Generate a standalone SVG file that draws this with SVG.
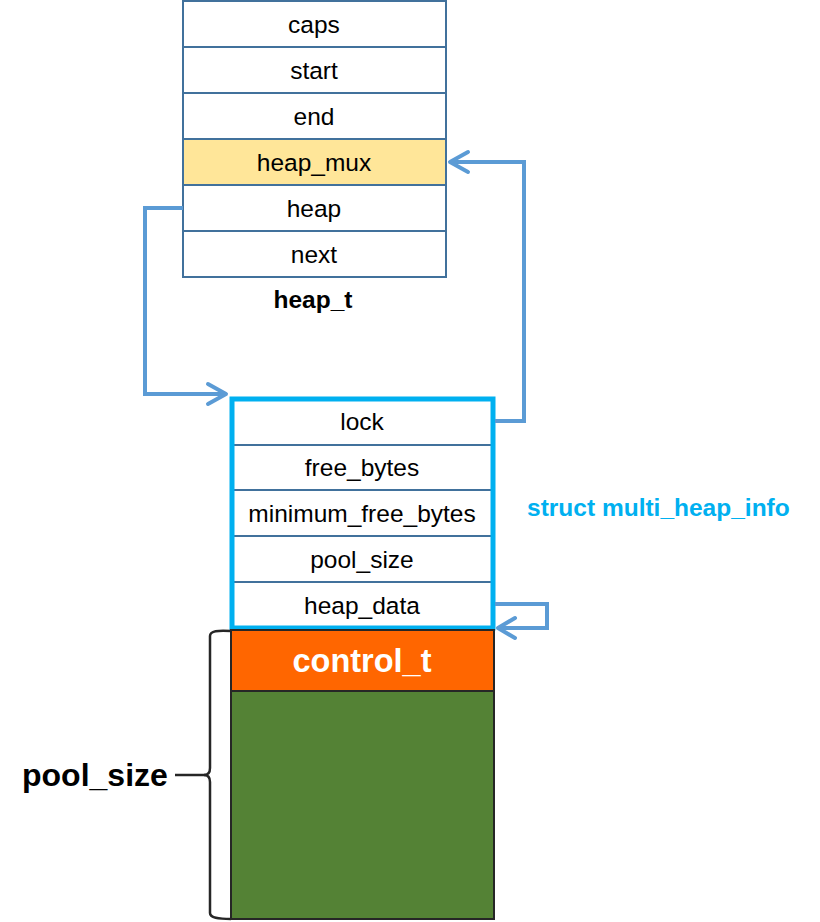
<svg xmlns="http://www.w3.org/2000/svg" width="820" height="922" viewBox="0 0 820 922">
<defs>
<style>
.cell{fill:#FFFFFF;stroke:#41719C;stroke-width:2}
.t{font-family:"Liberation Sans",Arial,sans-serif;font-size:24.5px;fill:#000;text-anchor:middle}
.conn{fill:none;stroke:#5B9BD5;stroke-width:4;stroke-linejoin:miter}
.ah{fill:none;stroke:#5B9BD5;stroke-width:4;stroke-linecap:round;stroke-linejoin:round}
</style>
</defs>
<rect width="820" height="922" fill="#FFFFFF"/>
<g id="heap_t">
<rect class="cell" x="183" y="1" width="263" height="46"/>
<rect class="cell" x="183" y="47" width="263" height="46"/>
<rect class="cell" x="183" y="93" width="263" height="46"/>
<rect class="cell" x="183" y="139" width="263" height="46" style="fill:#FFE699"/>
<rect class="cell" x="183" y="185" width="263" height="46"/>
<rect class="cell" x="183" y="231" width="263" height="46"/>
<text class="t" x="314" y="32.5">caps</text>
<text class="t" x="314" y="78.5">start</text>
<text class="t" x="314" y="124.5">end</text>
<text class="t" x="314" y="170.5">heap_mux</text>
<text class="t" x="314" y="216.5">heap</text>
<text class="t" x="314" y="262.5">next</text>
<text class="t" x="313" y="308" style="font-weight:bold">heap_t</text>
</g>
<g id="multi_heap_info">
<rect class="cell" x="232" y="399" width="261" height="46"/>
<rect class="cell" x="232" y="445" width="261" height="45"/>
<rect class="cell" x="232" y="490" width="261" height="46"/>
<rect class="cell" x="232" y="536" width="261" height="46"/>
<rect class="cell" x="232" y="582" width="261" height="46"/>
<rect x="232" y="399" width="261" height="229" fill="none" stroke="#00B0F0" stroke-width="5"/>
<text class="t" x="362" y="430">lock</text>
<text class="t" x="362" y="476">free_bytes</text>
<text class="t" x="362" y="522">minimum_free_bytes</text>
<text class="t" x="362" y="568">pool_size</text>
<text class="t" x="362" y="614">heap_data</text>
<text x="527" y="516" style="font-family:'Liberation Sans',Arial,sans-serif;font-size:24.5px;font-weight:bold;fill:#00B0F0">struct multi_heap_info</text>
</g>
<g id="pool">
<rect x="231" y="630" width="263" height="61" fill="#FF6600" stroke="#262626" stroke-width="2"/>
<rect x="231" y="691" width="263" height="228" fill="#548235" stroke="#262626" stroke-width="2"/>
<text x="362" y="672" style="font-family:'Liberation Sans',Arial,sans-serif;font-size:32.5px;font-weight:bold;fill:#FFFFFF;text-anchor:middle">control_t</text>
<path d="M231,631 C218,630 210,631 210,636 L210,768 C210,773 208,775 204,775 C208,775 210,777 210,782 L210,913 C210,918 218,919 231,919" fill="none" stroke="#262626" stroke-width="2.5"/>
<line x1="175" y1="775" x2="206" y2="775" stroke="#262626" stroke-width="2.5"/>
<text x="22" y="786" style="font-family:'Liberation Sans',Arial,sans-serif;font-size:32px;font-weight:bold;fill:#000">pool_size</text>
</g>
<g id="connectors">
<path class="conn" d="M183,208 H145 V394 H226"/>
<path class="ah" d="M208,384 L226,394 L208,404"/>
<path class="conn" d="M495,421 H524 V162 H450"/>
<path class="ah" d="M468,152 L450,162 L468,172"/>
<path class="conn" d="M495,604 H547 V628 H498"/>
<path class="ah" d="M515,618 L498,628 L515,638"/>
</g>
</svg>
